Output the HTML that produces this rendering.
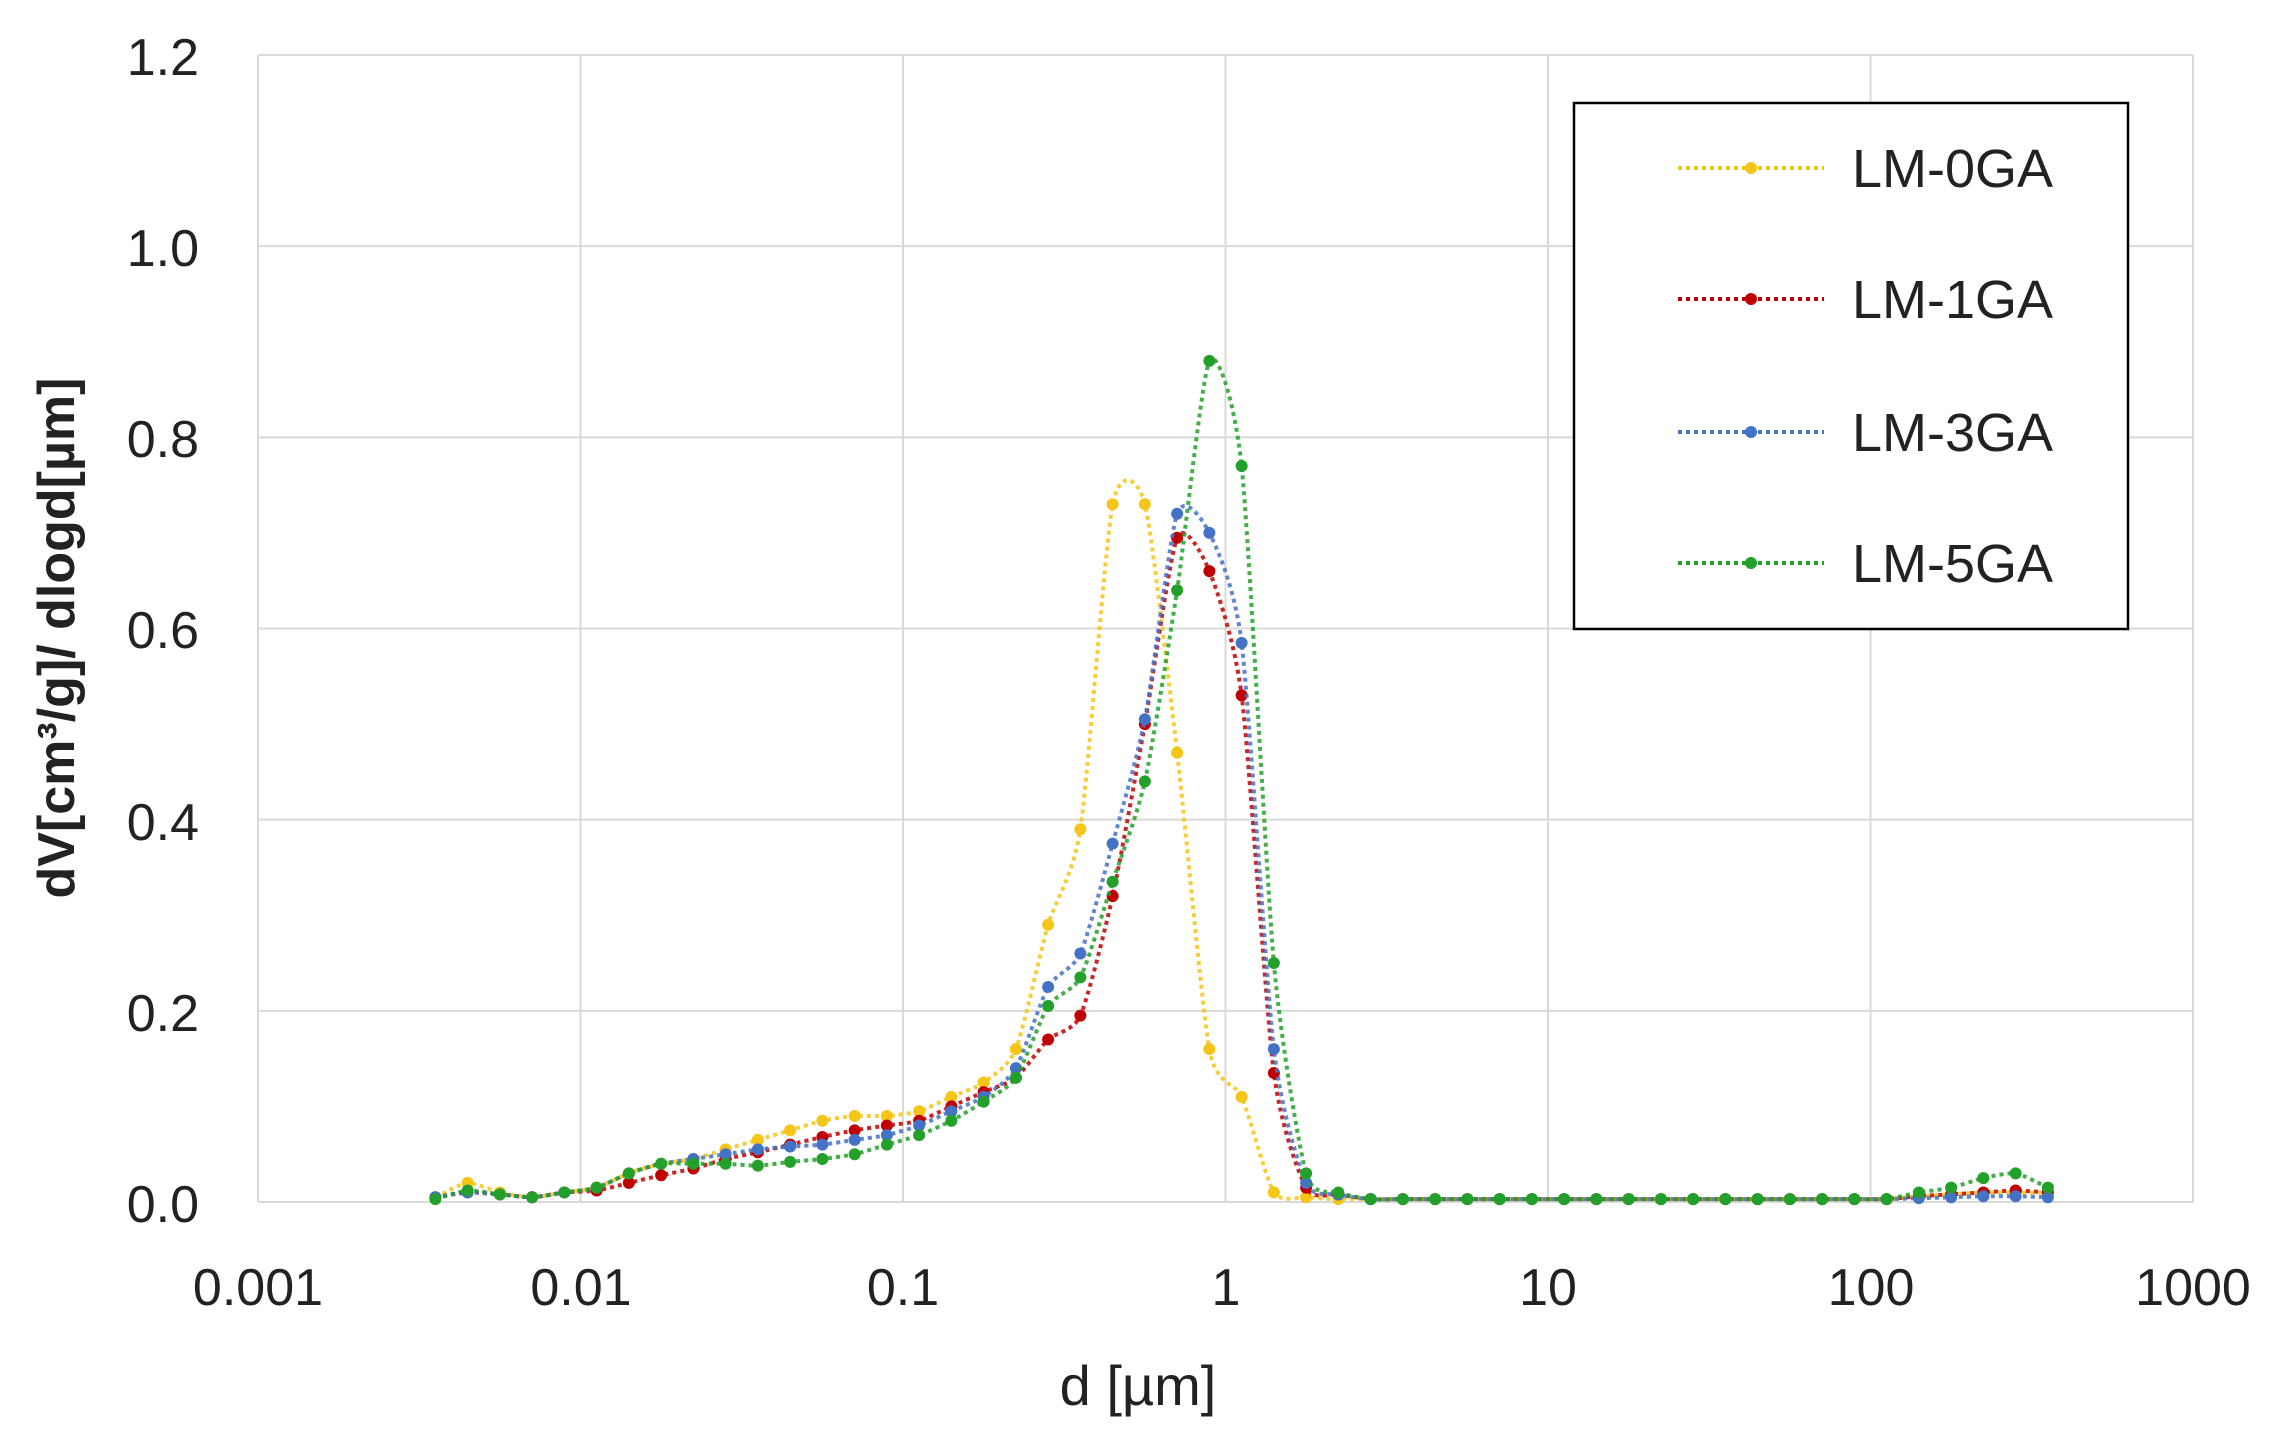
<!DOCTYPE html>
<html><head><meta charset="utf-8"><style>
html,body{margin:0;padding:0;background:#fff;}
svg{display:block;font-family:"Liberation Sans",sans-serif;}
</style></head><body>
<svg id="s" width="2274" height="1437" viewBox="0 0 2274 1437" xmlns="http://www.w3.org/2000/svg">
<rect width="2274" height="1437" fill="#fff"/>
<g id="grid" stroke="#d9d9d9" stroke-width="2"></g>
<g id="series"></g>
<rect x="1574" y="103" width="554" height="526" fill="#fff" stroke="#000" stroke-width="2.5"/>
<g font-size="52" fill="#222">
<text x="199" y="75" text-anchor="end">1.2</text>
<text x="199" y="266" text-anchor="end">1.0</text>
<text x="199" y="457" text-anchor="end">0.8</text>
<text x="199" y="648" text-anchor="end">0.6</text>
<text x="199" y="840" text-anchor="end">0.4</text>
<text x="199" y="1031" text-anchor="end">0.2</text>
<text x="199" y="1222" text-anchor="end">0.0</text>
<text x="258" y="1305" text-anchor="middle">0.001</text>
<text x="581" y="1305" text-anchor="middle">0.01</text>
<text x="903" y="1305" text-anchor="middle">0.1</text>
<text x="1226" y="1305" text-anchor="middle">1</text>
<text x="1548" y="1305" text-anchor="middle">10</text>
<text x="1871" y="1305" text-anchor="middle">100</text>
<text x="2193" y="1305" text-anchor="middle">1000</text>
<text x="1138" y="1405" text-anchor="middle" font-size="56">d [µm]</text>
<text transform="translate(74,638) rotate(-90)" text-anchor="middle" font-size="52" font-weight="bold">dV[cm³/g]/ dlogd[µm]</text>
<text x="1852" y="187" font-size="54">LM-0GA</text>
<text x="1852" y="318" font-size="54">LM-1GA</text>
<text x="1852" y="451" font-size="54">LM-3GA</text>
<text x="1852" y="582" font-size="54">LM-5GA</text>
</g>
<g id="leg"></g>
</svg>
<script>
var L=258,R=2193,T=55,B=1202,ns="http://www.w3.org/2000/svg";
function X(l){return L+(l+3)*(R-L)/6}
function Y(v){return B-v*(B-T)/1.2}
function el(t,a,p){var e=document.createElementNS(ns,t);for(var k in a)e.setAttribute(k,a[k]);p.appendChild(e);return e}
var g=document.getElementById('grid');
for(var i=0;i<=6;i++)el('line',{x1:X(i-3),x2:X(i-3),y1:T,y2:B},g);
for(var j=0;j<=6;j++)el('line',{x1:L,x2:R,y1:Y(j*0.2),y2:Y(j*0.2)},g);
var tail=function(a,end){var r=[];for(var i=0;i<a;i++)r.push(0.003);return r.concat(end)};
var S=[
{c:'#f5c518',d:[0.005,0.02,0.01,0.005,0.01,0.015,0.03,0.04,0.045,0.055,0.065,0.075,0.085,0.09,0.09,0.095,0.11,0.125,0.16,0.29,0.39,0.73,0.73,0.47,0.16,0.11,0.01,0.005].concat(tail(18,[0.006,0.008,0.01,0.01,0.01]))},
{c:'#c00000',d:[0.005,0.01,0.008,0.005,0.01,0.012,0.02,0.028,0.035,0.045,0.052,0.06,0.068,0.075,0.08,0.085,0.1,0.115,0.13,0.17,0.195,0.32,0.5,0.695,0.66,0.53,0.135,0.015,0.008].concat(tail(17,[0.006,0.008,0.01,0.012,0.01]))},
{c:'#4472c4',d:[0.005,0.01,0.008,0.005,0.01,0.015,0.03,0.04,0.045,0.05,0.055,0.058,0.06,0.065,0.07,0.08,0.095,0.11,0.14,0.225,0.26,0.375,0.505,0.72,0.70,0.585,0.16,0.02,0.008].concat(tail(17,[0.004,0.005,0.006,0.006,0.005]))},
{c:'#22a02a',d:[0.003,0.012,0.008,0.005,0.01,0.015,0.03,0.04,0.04,0.04,0.038,0.042,0.045,0.05,0.06,0.07,0.085,0.105,0.13,0.205,0.235,0.335,0.44,0.64,0.88,0.77,0.25,0.03,0.01].concat(tail(17,[0.01,0.015,0.025,0.03,0.015]))}
];
var sg=document.getElementById('series');
S.forEach(function(s){
 var pts=s.d.map(function(v,k){return [X(-2.45+0.1*k),Y(v)]});
 var d='M'+pts[0][0]+','+pts[0][1];
 for(var i=0;i<pts.length-1;i++){
  var p0=pts[Math.max(i-1,0)],p1=pts[i],p2=pts[i+1],p3=pts[Math.min(i+2,pts.length-1)];
  d+=' C'+(p1[0]+(p2[0]-p0[0])/9)+','+(p1[1]+(p2[1]-p0[1])/9)+' '+(p2[0]-(p3[0]-p1[0])/9)+','+(p2[1]-(p3[1]-p1[1])/9)+' '+p2[0]+','+p2[1];
 }
 el('path',{d:d,fill:'none',stroke:s.c,'stroke-width':4,'stroke-dasharray':'4 4',opacity:0.85},sg);
 pts.forEach(function(p){el('circle',{cx:p[0],cy:p[1],r:6,fill:s.c},sg)});
});
var lg=document.getElementById('leg');
[168,299,432,563].forEach(function(y,i){
 el('line',{x1:1678,x2:1824,y1:y,y2:y,stroke:S[i].c,'stroke-width':4,'stroke-dasharray':'4 4'},lg);
 el('circle',{cx:1751,cy:y,r:6,fill:S[i].c},lg);
});
</script>
</body></html>
